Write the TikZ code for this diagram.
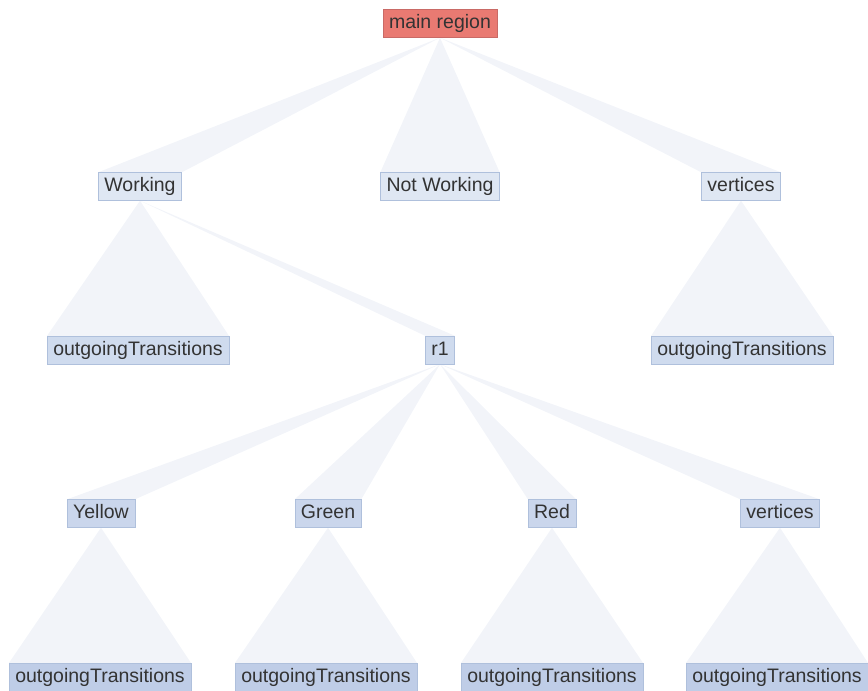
\documentclass[tikz,border=0pt]{standalone}
\usepackage{fontspec}
\setmainfont{Liberation Sans}
\usetikzlibrary{backgrounds}
\definecolor{rootfill}{HTML}{E97A72}
\definecolor{rootline}{HTML}{C96A66}
\definecolor{fillA}{HTML}{DFE7F3}
\definecolor{fillB}{HTML}{CFDBEE}
\definecolor{fillC}{HTML}{CAD6EC}
\definecolor{fillD}{HTML}{BFCDE7}
\definecolor{boxline}{HTML}{AFC0DC}
\definecolor{wedgefill}{HTML}{F2F4F9}
\definecolor{txt}{HTML}{333333}

\begin{document}
\begin{tikzpicture}[x=1pt,y=-1pt,
  every node/.style={draw=boxline,text=txt,inner xsep=6pt,inner ysep=5pt,
    text height=14pt,text depth=4pt,minimum height=28pt,
    font=\fontsize{19.5}{20}\selectfont},
  lvlroot/.style={fill=rootfill,draw=rootline},
  lvla/.style={fill=fillA},
  lvlb/.style={fill=fillB},
  lvlc/.style={fill=fillC},
  lvld/.style={fill=fillD}]
\useasboundingbox (0,0) rectangle (868,691);
% tree nodes
\node[lvlroot] (main) at (440,23.5) {main region};
\node[lvla] (working) at (140,186.5) {Working};
\node[lvla] (notworking) at (440,186.5) {Not Working};
\node[lvla] (vert) at (741,186.5) {vertices};
\node[lvlb] (wout) at (138,350) {outgoingTransitions};
\node[lvlb] (r1) at (440,350) {r1};
\node[lvlb] (vout) at (742,350) {outgoingTransitions};
\node[lvlc] (yellow) at (101,513.5) {Yellow};
\node[lvlc] (green) at (328,513.5) {Green};
\node[lvlc] (red) at (552,513.5) {Red};
\node[lvlc] (rvert) at (780,513.5) {vertices};
\node[lvld] (yout) at (100,677) {outgoingTransitions};
\node[lvld] (gout) at (326,677) {outgoingTransitions};
\node[lvld] (rout) at (552,677) {outgoingTransitions};
\node[lvld] (vvout) at (777,677) {outgoingTransitions};
% wedges behind the boxes
\begin{scope}[on background layer]
\foreach \p/\c in {main/working,main/notworking,main/vert,
    working/wout,working/r1,vert/vout,
    r1/yellow,r1/green,r1/red,r1/rvert,
    yellow/yout,green/gout,red/rout,rvert/vvout}
  \fill[wedgefill] (\p.south) -- (\c.north west) -- (\c.north east) -- cycle;
\end{scope}
\end{tikzpicture}
\end{document}
